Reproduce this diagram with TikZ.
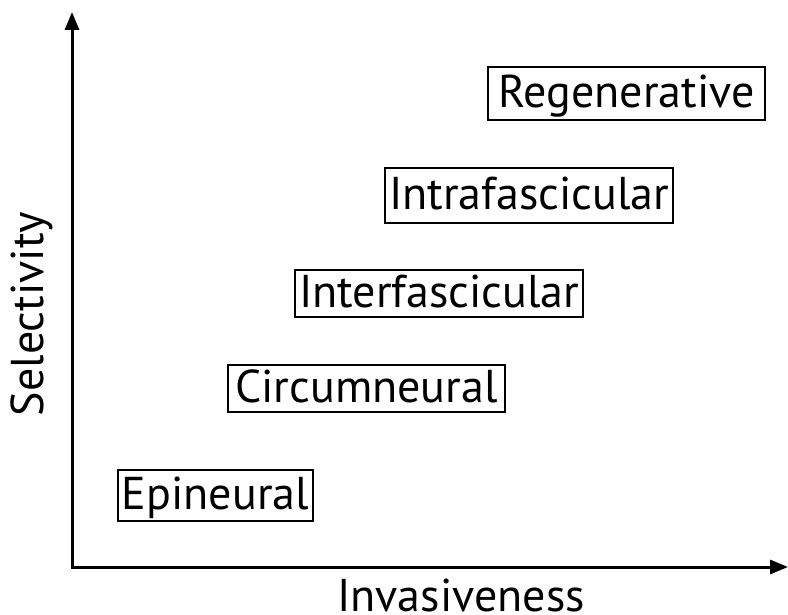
\documentclass[tikz,border=0pt]{standalone}
\usepackage{fontspec}
\setmainfont{PT Sans}
\usetikzlibrary{arrows.meta}
\begin{document}
\begin{tikzpicture}[x=1pt,y=-1pt,
  lbl/.style={draw=black,line width=2pt,inner sep=0pt,font=\fontsize{46}{52}\selectfont,text height=36pt,text depth=8pt,anchor=center},
  axislbl/.style={font=\fontsize{46}{52}\selectfont,inner sep=0pt,anchor=base},
  axisline/.style={line width=3pt,-{Triangle[width=14pt,length=18pt]}}]
\useasboundingbox (0,0) rectangle (788,615);
\coordinate (ybase) at (72,568.5);
\coordinate (xbase) at (70.5,567);
\coordinate (ytip) at (72,12);
\coordinate (xtip) at (788,567);
\draw[axisline] (ybase) -- (ytip);
\draw[axisline] (xbase) -- (xtip);
\node[lbl,minimum width=277pt,minimum height=53pt] (reg) at (626.5,93.5) {Regenerative};
\node[lbl,minimum width=288pt,minimum height=55pt] (intra) at (529,196) {Intrafascicular};
\node[lbl,minimum width=288pt,minimum height=47pt] (inter) at (439,293.5) {Interfascicular};
\node[lbl,minimum width=277pt,minimum height=47pt] (circ) at (366.5,388.5) {Circumneural};
\node[lbl,minimum width=195pt,minimum height=51pt] (epi) at (215.5,495.5) {Epineural};
\node[axislbl] (xl) at (461,611) {Invasiveness};
\node[axislbl,rotate=90] (yl) at (43,314) {Selectivity};
\end{tikzpicture}
\end{document}
